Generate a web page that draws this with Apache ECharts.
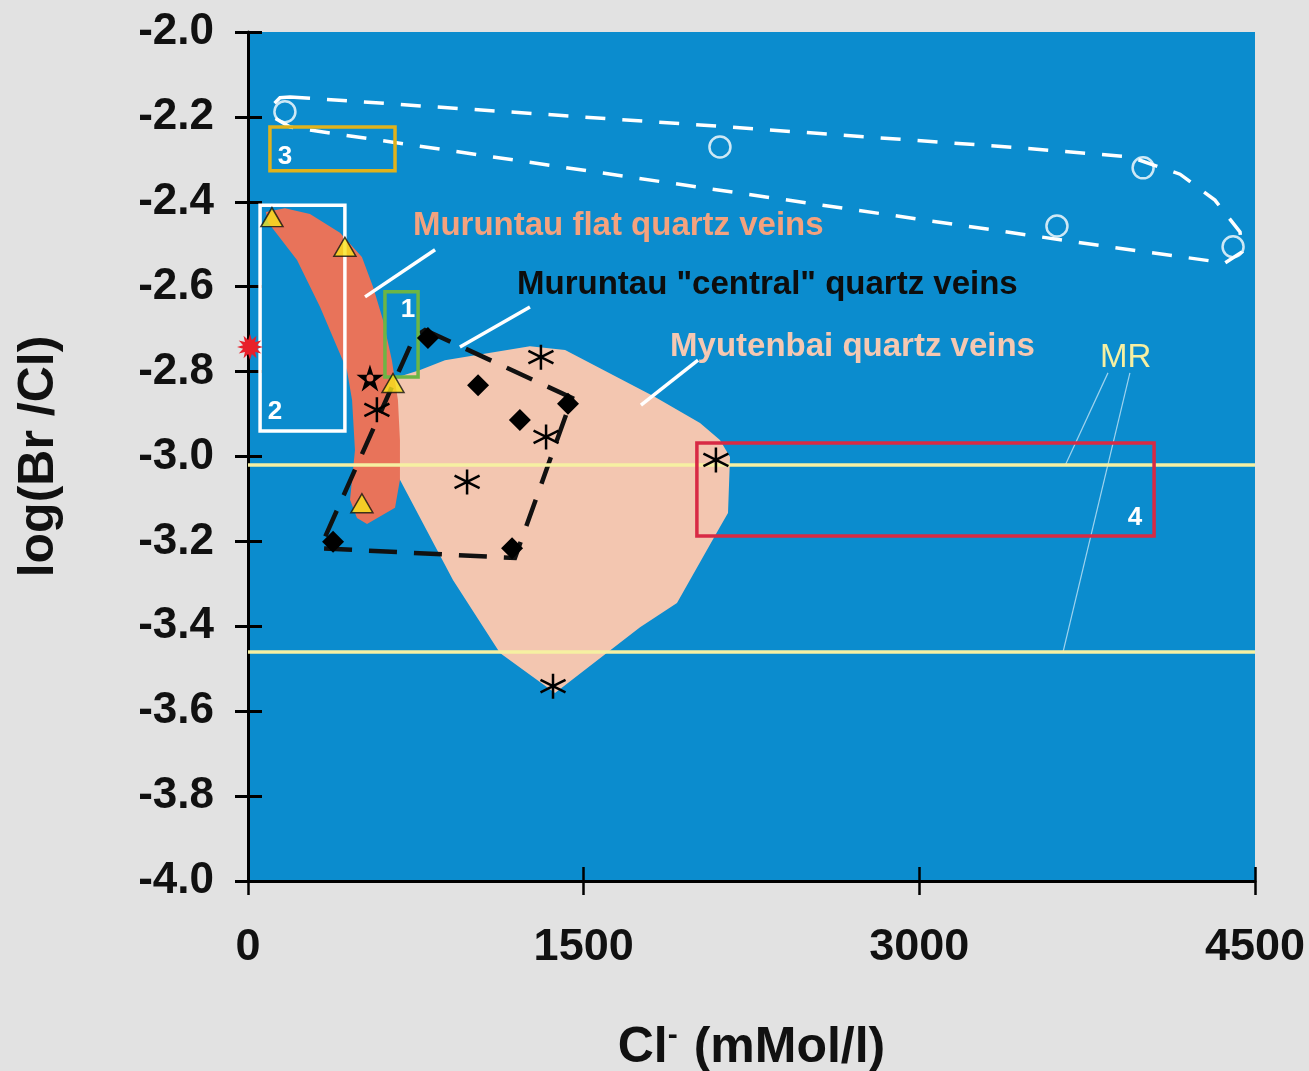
<!DOCTYPE html>
<html><head><meta charset="utf-8">
<script src="https://cdn.jsdelivr.net/npm/echarts@6/dist/echarts.min.js"></script>
<style>html,body{margin:0;padding:0;background:#e2e2e2;} #c{width:1309px;height:1071px;}</style>
</head><body><div id="c"></div>
<script>
// ---------------- data ----------------
const xTicks = [0, 1500, 3000, 4500];
const yTicks = [-2.0, -2.2, -2.4, -2.6, -2.8, -3.0, -3.2, -3.4, -3.6, -3.8, -4.0];

const openCircles = [[165,-2.188],[2109,-2.271],[4000,-2.320],[3615,-2.457],[4402,-2.506]];
const triangles   = [[107,-2.436],[433,-2.506],[648,-2.827],[509,-3.110]];
const diamonds    = [[804,-2.721],[1028,-2.832],[1215,-2.914],[1430,-2.876],[380,-3.201],[1180,-3.216]];
const asterisks   = [[576,-2.890],[1309,-2.766],[1332,-2.954],[979,-3.060],[2091,-3.008],[1363,-3.541]];
const starPoint   = [[545,-2.815]];
const redPoint    = [[9,-2.742]];
const mrLevels    = [-3.020, -3.456];

const flatVeinsOutline = [[80,-2.424],[165,-2.415],[277,-2.429],[411,-2.473],[509,-2.530],[559,-2.601],
  [603,-2.678],[643,-2.773],[670,-2.867],[679,-2.961],[679,-3.055],[657,-3.121],[532,-3.159],[487,-3.145],
  [456,-3.102],[478,-2.985],[465,-2.867],[442,-2.796],[398,-2.742],[322,-2.648],[219,-2.537],[89,-2.448]];
const myutenbaiOutline = [[576,-2.860],[657,-2.815],[769,-2.796],[880,-2.773],[1260,-2.740],[1417,-2.749],
  [1819,-2.860],[2020,-2.921],[2109,-2.961],[2154,-3.001],[2145,-3.133],[2109,-3.166],[1917,-3.345],
  [1752,-3.402],[1372,-3.557],[1126,-3.463],[916,-3.291],[679,-3.055],[559,-2.933]];
const centralVeinsOutline = [[791,-2.702],[1448,-2.862],[1193,-3.239],[322,-3.216],[742,-2.719]];
const fluidLoopOutline = [[188,-2.153],[2020,-2.219],[3450,-2.273],[3941,-2.294],[4165,-2.335],[4321,-2.396],
  [4433,-2.471],[4442,-2.518],[4366,-2.544],[3807,-2.503],[2020,-2.366],[188,-2.224],[121,-2.203],
  [107,-2.174],[143,-2.155]];

const box1 = [[612,-2.612],[760,-2.813]];
const box2 = [[54,-2.408],[433,-2.940]];
const box3 = [[98,-2.224],[657,-2.327]];
const box4 = [[2006,-2.968],[4049,-3.187]];

const leaderWhite = [[[523,-2.624],[836,-2.513]], [[947,-2.742],[1260,-2.648]], [[1756,-2.879],[2011,-2.773]]];
const leaderMR = [[[3843,-2.803],[3651,-3.022]], [[3941,-2.803],[3642,-3.461]]];

const labelTexts = ['Muruntau flat quartz veins', 'Muruntau "central" quartz veins', 'Myutenbai quartz veins', 'MR'];
const labelAnchors = [[737,-2.457],[1202,-2.596],[1886,-2.742],[3807,-2.768]];
const boxNumbers = ['1','2','3','4'];
const boxNumberAnchors = [[715,-2.655],[121,-2.895],[165,-2.294],[3964,-3.145]];

// ---------------- rendering ----------------
const FONT = '"Liberation Sans", Arial, sans-serif';
const BLUE = '#0b8cce';

function polySeries(points, style, z) {
  return {
    type: 'custom', coordinateSystem: 'cartesian2d', z: z, silent: true,
    data: points,
    renderItem: function (params, api) {
      if (params.dataIndex !== 0) return null;
      return { type: 'polygon', shape: { points: points.map(p => api.coord(p)) }, style: style };
    }
  };
}
function rectSeries(box, color, z) {
  return {
    type: 'custom', coordinateSystem: 'cartesian2d', z: z, silent: true, data: box,
    renderItem: function (params, api) {
      if (params.dataIndex !== 0) return null;
      const a = api.coord(box[0]), b = api.coord(box[1]);
      return { type: 'rect', shape: { x: a[0], y: a[1], width: b[0]-a[0], height: b[1]-a[1] },
        style: { fill: 'none', stroke: color, lineWidth: 3.5 } };
    }
  };
}
function segSeries(segs, color, width, z) {
  const flat = [];
  segs.forEach(s => { flat.push(s[0]); flat.push(s[1]); });
  return {
    type: 'custom', coordinateSystem: 'cartesian2d', z: z, silent: true, data: flat,
    renderItem: function (params, api) {
      if (params.dataIndex % 2 !== 0) return null;
      const a = api.coord(flat[params.dataIndex]), b = api.coord(flat[params.dataIndex + 1]);
      return { type: 'line', shape: { x1: a[0], y1: a[1], x2: b[0], y2: b[1] },
        style: { stroke: color, lineWidth: width } };
    }
  };
}
function textSeries(texts, anchors, styles, z) {
  return {
    type: 'custom', coordinateSystem: 'cartesian2d', z: z, silent: true, data: anchors,
    renderItem: function (params, api) {
      const i = params.dataIndex;
      const p = api.coord(anchors[i]);
      return { type: 'text', x: p[0], y: p[1],
        style: Object.assign({ text: texts[i], fontFamily: FONT, verticalAlign: 'middle' }, styles[i]) };
    }
  };
}

function burstPath(n) {
  let d = 'path://';
  for (let i = 0; i < 2 * n; i++) {
    const r = i % 2 === 0 ? 10 : 5.5;
    const a = Math.PI * i / n;
    d += (i === 0 ? 'M' : 'L') + (10 + r * Math.sin(a)).toFixed(2) + ',' + (10 - r * Math.cos(a)).toFixed(2);
  }
  return d + 'Z';
}
const STAR = 'path://M10,0L12.4,7.2L20,7.2L13.8,11.8L16.2,19L10,14.5L3.8,19L6.2,11.8L0,7.2L7.6,7.2Z';
const ASTER = 'path://M10,0L10,20M1.34,5L18.66,15M1.34,15L18.66,5';

const chart = echarts.init(document.getElementById('c'), null, { renderer: 'canvas' });
const option = {
  backgroundColor: '#e2e2e2',
  animation: false,
  grid: { left: 248, top: 32, right: 54, bottom: 190, show: true, backgroundColor: BLUE, borderWidth: 0,
    containLabel: false, outerBoundsMode: 'none' },
  xAxis: [{
    type: 'value', min: xTicks[0], max: xTicks[xTicks.length-1], interval: xTicks[1]-xTicks[0],
    axisLine: { show: true, onZero: false, lineStyle: { color: '#000', width: 3 } },
    axisTick: { show: true, length: 14, lineStyle: { color: '#000', width: 2.5 } },
    splitLine: { show: false },
    axisLabel: { fontSize: 45, fontWeight: 'bold', fontFamily: FONT, color: '#111', margin: 44,
      formatter: v => String(v) },
    name: 'Cl{sup|-} (mMol/l)', nameLocation: 'middle', nameGap: 140,
    nameTextStyle: { fontSize: 50, fontWeight: 'bold', fontFamily: FONT, color: '#111',
      rich: { sup: { fontSize: 30, fontWeight: 'bold', fontFamily: FONT, color: '#111', verticalAlign: 'top', padding: [0,2,24,0] } } }
  }, {
    type: 'value', min: xTicks[0], max: xTicks[xTicks.length-1], interval: xTicks[1]-xTicks[0], position: 'bottom',
    axisLine: { show: false }, axisLabel: { show: false }, splitLine: { show: false },
    axisTick: { show: true, inside: true, length: 14, lineStyle: { color: '#000', width: 2.5 } }
  }],
  yAxis: [{
    type: 'value', min: yTicks[yTicks.length-1], max: yTicks[0], interval: 0.2,
    axisLine: { show: true, onZero: false, lineStyle: { color: '#000', width: 3 } },
    axisTick: { show: true, length: 13, lineStyle: { color: '#000', width: 3 } },
    splitLine: { show: false },
    axisLabel: { fontSize: 44, fontWeight: 'bold', fontFamily: FONT, color: '#111', margin: 34,
      formatter: v => v.toFixed(1) },
    name: 'log(Br /Cl)', nameLocation: 'middle', nameGap: 184, nameRotate: 90,
    nameTextStyle: { fontSize: 50, fontWeight: 'bold', fontFamily: FONT, color: '#111' }
  }, {
    type: 'value', min: yTicks[yTicks.length-1], max: yTicks[0], interval: 0.2, position: 'left',
    axisLine: { show: false }, axisLabel: { show: false }, splitLine: { show: false },
    axisTick: { show: true, inside: true, length: 14, lineStyle: { color: '#000', width: 3 } }
  }],
  series: [
    polySeries(myutenbaiOutline, { fill: '#f3c6b0', stroke: 'none' }, 1),
    polySeries(flatVeinsOutline, { fill: '#e8735a', stroke: 'none' }, 2),
    {
      type: 'line', data: [], z: 3, silent: true,
      markLine: { symbol: ['none','none'], silent: true, label: { show: false },
        lineStyle: { color: '#f6f0a2', width: 3.5, type: 'solid' },
        data: mrLevels.map(v => ({ yAxis: v })) }
    },
    polySeries(fluidLoopOutline, { fill: 'none', stroke: '#ffffff', lineWidth: 3.5, lineDash: [20, 17] }, 4),
    polySeries(centralVeinsOutline, { fill: 'none', stroke: '#111111', lineWidth: 4.5, lineDash: [28, 17] }, 4),
    segSeries(leaderWhite, '#ffffff', 3.5, 4),
    segSeries(leaderMR, '#9fd3ee', 1.2, 4),
    rectSeries(box1, '#6cb545', 5),
    rectSeries(box2, '#ffffff', 5),
    rectSeries(box3, '#e0b21c', 5),
    rectSeries(box4, '#d82a44', 5),
    textSeries(labelTexts, labelAnchors, [
      { fill: '#f4a27e', fontSize: 33, fontWeight: 'bold' },
      { fill: '#0d0d0d', fontSize: 33, fontWeight: 'bold' },
      { fill: '#f5c8b2', fontSize: 33, fontWeight: 'bold' },
      { fill: '#f6f0a2', fontSize: 33, fontWeight: 'normal' }
    ], 6),
    textSeries(boxNumbers, boxNumberAnchors, boxNumbers.map(() => ({ fill: '#ffffff', fontSize: 26, fontWeight: 'bold', align: 'center' })), 6),
    { type: 'scatter', data: openCircles, z: 7, symbol: 'circle', symbolSize: 21, silent: true,
      itemStyle: { color: 'rgba(0,0,0,0)', borderColor: '#ffffff', borderWidth: 2.5 } },
    { type: 'scatter', data: triangles, z: 7, symbol: 'triangle', symbolSize: [22, 19], silent: true,
      itemStyle: { color: '#f7e21a', borderColor: '#111', borderWidth: 1.5 } },
    { type: 'scatter', data: diamonds, z: 7, symbol: 'diamond', symbolSize: [22, 22], silent: true,
      itemStyle: { color: '#000000', opacity: 1 } },
    { type: 'scatter', data: asterisks, z: 7, symbol: ASTER, symbolSize: 25, silent: true,
      itemStyle: { color: 'rgba(0,0,0,0)', borderColor: '#000', borderWidth: 2.5, opacity: 1 } },
    { type: 'scatter', data: starPoint, z: 7, symbol: STAR, symbolSize: 27, silent: true,
      itemStyle: { color: '#000', opacity: 1 } },
    { type: 'scatter', data: starPoint, z: 8, symbol: 'circle', symbolSize: 7, silent: true,
      itemStyle: { color: '#e8735a', opacity: 1 } },
    { type: 'scatter', data: redPoint, z: 8, symbol: burstPath(12), symbolSize: 26, silent: true,
      itemStyle: { color: '#e8202a', opacity: 1 } }
  ]
};
chart.setOption(option);
</script>
</body></html>
